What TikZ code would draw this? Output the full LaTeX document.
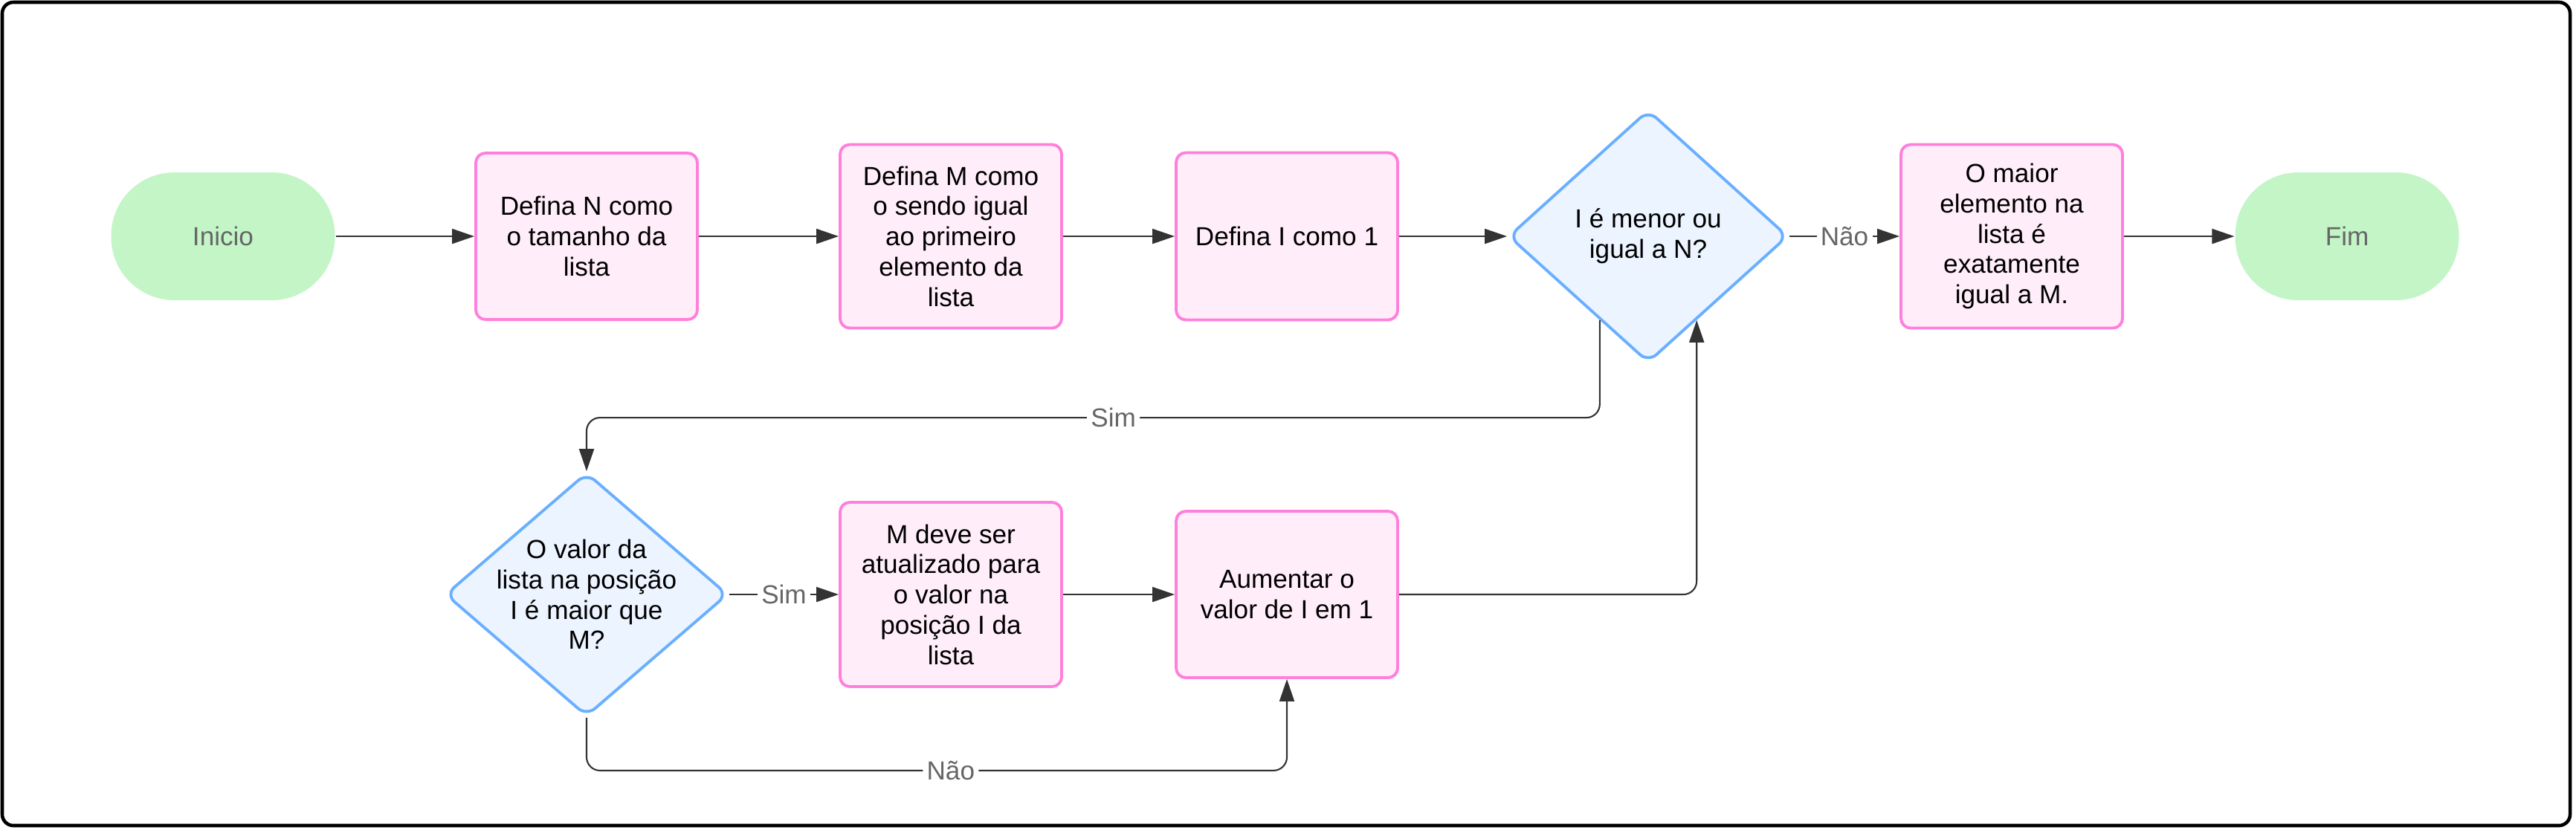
\documentclass[tikz,border=0pt]{standalone}
\usepackage{fontspec}
\setmainfont{Liberation Sans}
\usetikzlibrary{arrows.meta, shapes.geometric, positioning}
\usepackage{xcolor}
\definecolor{linegray}{HTML}{333333}
\definecolor{labelgray}{HTML}{666666}
\definecolor{taskborder}{HTML}{FF7FDD}
\definecolor{taskfill}{HTML}{FFEEF9}
\definecolor{decborder}{HTML}{6AAFFF}
\definecolor{decfill}{HTML}{EBF4FF}
\definecolor{termfill}{HTML}{C3F5C7}
\def\toprow{-3.18}
\def\lowrow{-8.00}

\begin{document}
\begin{tikzpicture}[->, >={Triangle[length=0.3cm,width=0.2cm]}, draw=linegray, line width=0.6pt, font=\fontsize{10pt}{11.6pt}\selectfont]
    \tikzstyle{task}=[rectangle, draw=taskborder, fill=taskfill, line width=1.1pt, rounded corners=0.13cm, minimum width=2.98cm, align=center, inner sep=0pt]
    \tikzstyle{decision}=[diamond, draw=decborder, fill=decfill, line width=1.1pt, rounded corners=0.15cm, align=center, inner sep=-0.8cm]
    \tikzstyle{terminal}=[rectangle, fill=termfill, rounded corners=0.85cm, minimum width=3.01cm, minimum height=1.72cm, text=labelgray]
    \tikzstyle{annot}=[fill=white, text=labelgray, inner sep=1.5pt]

    % Frame round the whole chart
    \useasboundingbox (0,0) rectangle (34.65,-11.16);
    \draw[-, draw=black, line width=1.3pt, rounded corners=0.15cm] (0.03,-0.03) rectangle (34.57,-11.11);

    % Draw the top row
    \node[terminal] (ini) at (3.00,\toprow) {Inicio};
    \node[task, minimum height=2.24cm] (b1) at (7.89,\toprow) {Defina N como\\o tamanho da\\lista};
    \node[task, minimum height=2.47cm] (b2) at (12.79,\toprow) {Defina M como\\o sendo igual\\ao primeiro\\elemento da\\lista};
    \node[task, minimum height=2.25cm] (b3) at (17.31,\toprow) {Defina I como 1};
    \node[decision, minimum width=3.76cm, minimum height=3.40cm] (d1) at (22.17,\toprow) {I é menor ou\\igual a N?};
    \node[task, minimum height=2.47cm] (b4) at (27.06,\toprow) {O maior\\elemento na\\lista é\\exatamente\\igual a M.};
    \node[terminal] (fim) at (31.57,\toprow) {Fim};

    % Draw the loop row
    \node[decision, minimum width=3.80cm, minimum height=3.28cm] (d2) at (7.89,\lowrow) {O valor da\\lista na posição\\I é maior que\\M?};
    \node[task, minimum height=2.48cm] (b5) at (12.79,\lowrow) {M deve ser\\atualizado para\\o valor na\\posição I da\\lista};
    \node[task, minimum height=2.24cm] (b6) at (17.31,\lowrow) {Aumentar o\\valor de I em 1};

    % Connect the steps that follow one another
    \foreach \source/\dest in {ini/b1, b1/b2, b2/b3, b3/d1, b4/fim, b5/b6}
        \draw (\source) -- (\dest);

    % Branches of the two questions
    \draw (d1) -- node[annot] {Não} (b4);
    \draw (d2) -- node[annot] {Sim} (b5);
    \draw[rounded corners=0.18cm] (d1.240) |- node[annot, pos=0.74] {Sim} ([yshift=0.72cm]d2.north) -- (d2.north);
    \draw[rounded corners=0.18cm] (d2.south) -- ++(0,-0.71) -| node[annot, pos=0.26] {Não} (b6.south);
    \draw[rounded corners=0.18cm] (b6.east) -| (d1.300);
\end{tikzpicture}
\end{document}
